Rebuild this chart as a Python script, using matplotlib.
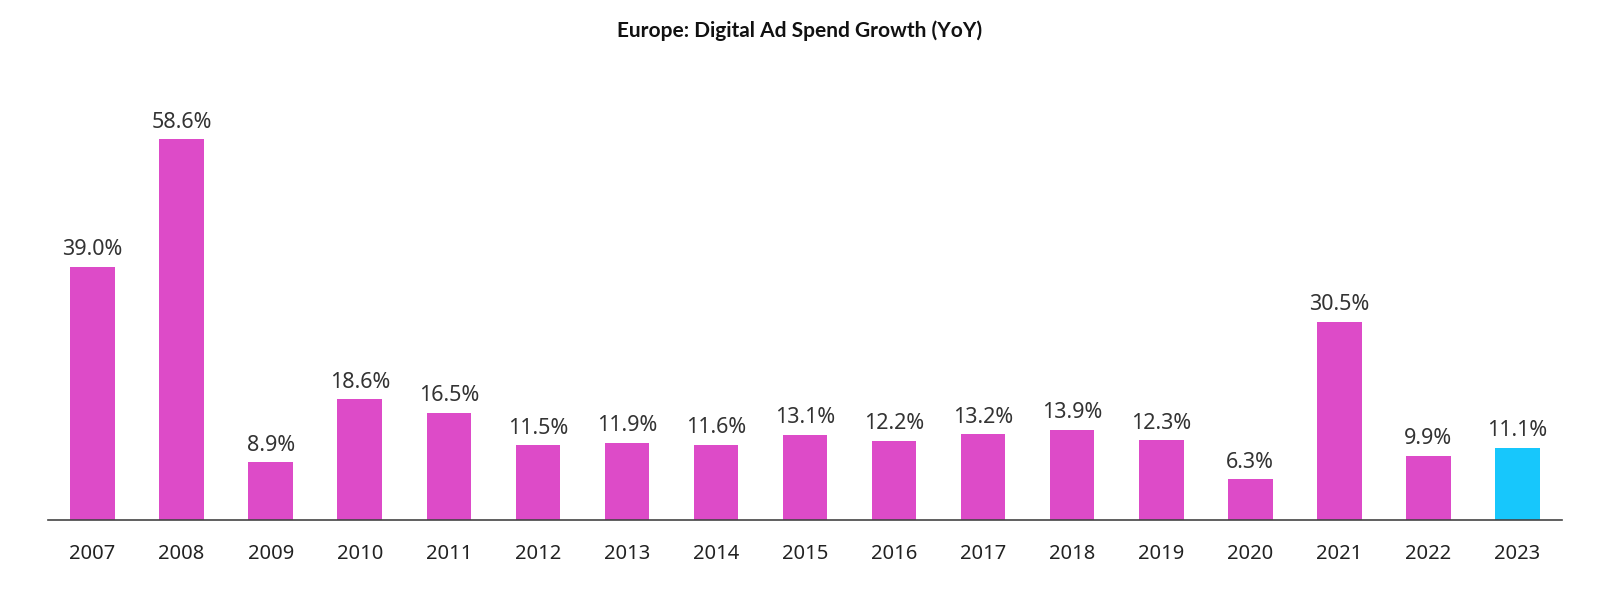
import matplotlib
matplotlib.use("Agg")
import matplotlib.pyplot as plt

plt.rcParams['font.family'] = ['Noto Sans', 'DejaVu Sans']

# data
years = ['2007', '2008', '2009', '2010', '2011', '2012', '2013', '2014', '2015',
         '2016', '2017', '2018', '2019', '2020', '2021', '2022', '2023']
growth = [39.0, 58.6, 8.9, 18.6, 16.5, 11.5, 11.9, 11.6, 13.1,
          12.2, 13.2, 13.9, 12.3, 6.3, 30.5, 9.9, 11.1]

pink = '#DD4BC8'
cyan = '#17C7FC'
colors = [pink] * (len(years) - 1) + [cyan]

fig = plt.figure(figsize=(16, 5.9), dpi=100)
ax = fig.add_axes([48/1600, 70/590, 1514/1600, 422.5/590])

x = range(len(years))
bars = ax.bar(x, growth, width=0.5, color=colors)

for xi, v in zip(x, growth):
    ax.text(xi, v + 1.0, f'{v:.1f}%', ha='center', va='bottom',
            fontsize=15.5, color='#333333')

ax.set_xlim(-0.5, len(years) - 0.5)
ax.set_ylim(0, 65)
ax.set_xticks(list(x))
ax.set_xticklabels(years, fontsize=14.5, color='#222222')
ax.tick_params(axis='x', length=0, pad=17)
ax.set_yticks([])
for s in ['top', 'right', 'left']:
    ax.spines[s].set_visible(False)
ax.spines['bottom'].set_color('#444444')
ax.spines['bottom'].set_linewidth(1.2)

fig.text(0.5, 1 - 31/590, 'Europe: Digital Ad Spend Growth (YoY)', ha='center', va='center',
         fontsize=15, fontweight='bold', color='#111111', family=['Lato', 'DejaVu Sans'])

fig.savefig('out.png', dpi=100)
